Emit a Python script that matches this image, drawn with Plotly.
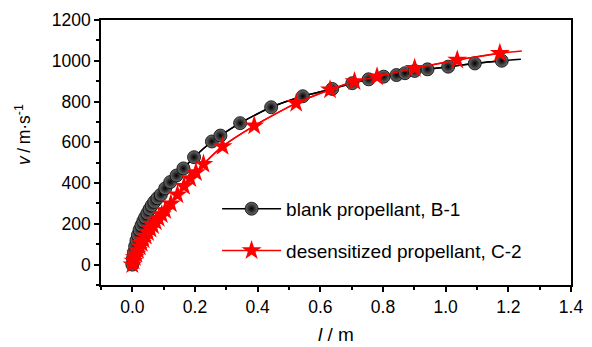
import plotly.graph_objects as go

# Blank propellant, B-1 (black spheres)
b1_l = [0, 0.002, 0.005, 0.009, 0.013, 0.018, 0.023, 0.029, 0.035, 0.041,
        0.048, 0.055, 0.062, 0.070, 0.080, 0.091, 0.105, 0.121, 0.141, 0.163,
        0.197, 0.254, 0.281, 0.344, 0.443, 0.544, 0.638, 0.702, 0.754, 0.802,
        0.843, 0.870, 0.901, 0.942, 1.008, 1.093, 1.179]
b1_v = [0, 30, 60, 90, 118, 145, 170, 192, 213, 232,
        252, 272, 290, 308, 326, 343, 374, 405, 437, 472,
        527, 604, 633, 694, 772, 826, 862, 890, 909, 922,
        930, 939, 950, 958, 971, 987, 1000]
b1_line_end_l = [1.24]
b1_line_end_v = [1007]

# Desensitized propellant, C-2 (red stars)
c2_l = [0, 0.004, 0.008, 0.013, 0.018, 0.024, 0.030, 0.036, 0.043, 0.050,
        0.058, 0.066, 0.075, 0.084, 0.094, 0.105, 0.123, 0.144, 0.165, 0.185,
        0.203, 0.227, 0.288, 0.389, 0.523, 0.631, 0.709, 0.781, 0.901, 1.037,
        1.173]
c2_v = [0, 18, 35, 52, 70, 88, 105, 122, 140, 157,
        175, 192, 210, 228, 246, 266, 299, 343, 384, 423,
        452, 493, 580, 681, 792, 858, 898, 922, 963, 1004,
        1037]
c2_line_end_l = [1.243]
c2_line_end_v = [1048]

x_ticks = [0.0, 0.2, 0.4, 0.6, 0.8, 1.0, 1.2, 1.4]
y_ticks = [0, 200, 400, 600, 800, 1000, 1200]

FONT = "Liberation Sans, Arial, sans-serif"

fig = go.Figure()
fig.add_trace(go.Scatter(x=b1_l + b1_line_end_l, y=b1_v + b1_line_end_v, mode="lines",
                         line=dict(color="black", width=1.5, shape="spline", smoothing=0.6),
                         showlegend=False, hoverinfo="skip"))
fig.add_trace(go.Scatter(x=c2_l + c2_line_end_l, y=c2_v + c2_line_end_v, mode="lines",
                         line=dict(color="#ff0000", width=1.5, shape="spline", smoothing=0.6),
                         showlegend=False, hoverinfo="skip"))
fig.add_trace(go.Scatter(x=b1_l, y=b1_v, mode="markers+lines", name="blank propellant, B-1",
                         line=dict(color="black", width=1.5, shape="spline", smoothing=0.6),
                         marker=dict(symbol="circle", size=13, color="#6e6e6e",
                                     gradient=dict(type="radial", color="black"),
                                     line=dict(color="black", width=0.8)),
                         legendgroup="a"))
fig.add_trace(go.Scatter(x=c2_l, y=c2_v, mode="markers+lines", name="desensitized propellant, C-2",
                         line=dict(color="#ff0000", width=1.5, shape="spline", smoothing=0.6),
                         marker=dict(symbol="star", size=15, color="#ff0000",
                                     line=dict(color="#ff0000", width=0)),
                         legendgroup="b"))

axis_common = dict(showline=True, linecolor="black", linewidth=1.5, mirror=True,
                   ticks="outside", ticklen=5, tickwidth=1.5, tickcolor="black",
                   showgrid=False, zeroline=False, automargin=False,
                   tickfont=dict(family=FONT, size=17.5, color="black"))

fig.update_xaxes(range=[-0.1, 1.4], tickvals=x_ticks,
                 ticktext=[f"{t:.1f}" for t in x_ticks],
                 minor=dict(dtick=0.1, tick0=0, ticks="outside", ticklen=3, tickwidth=1.5, tickcolor="black"),
                 title=dict(text="<i>l</i> / m", font=dict(family=FONT, size=19, color="black"), standoff=12),
                 **axis_common)
fig.update_yaxes(range=[-100, 1200], tickvals=y_ticks,
                 minor=dict(dtick=100, tick0=0, ticks="outside", ticklen=3, tickwidth=1.5, tickcolor="black"),
                 **axis_common)

fig.add_annotation(text="<i>v</i>\u2009/\u2009m·s<sup>-1</sup>", xref="paper", yref="paper",
                   x=-0.166, y=0.57, xanchor="center", yanchor="middle", textangle=-90,
                   showarrow=False, font=dict(family=FONT, size=17.5, color="black"))

fig.update_layout(
    width=592, height=347,
    margin=dict(l=101, r=21, t=20, b=62),
    paper_bgcolor="white", plot_bgcolor="white",
    legend=dict(x=0.247, y=0.359, xanchor="left", yanchor="top",
                bgcolor="rgba(0,0,0,0)", font=dict(family=FONT, size=19, color="black"),
                itemwidth=59, tracegroupgap=14, traceorder="grouped"),
)

fig.write_html("out.html", config={"displayModeBar": False},
               post_script="document.body.style.margin='0';")
